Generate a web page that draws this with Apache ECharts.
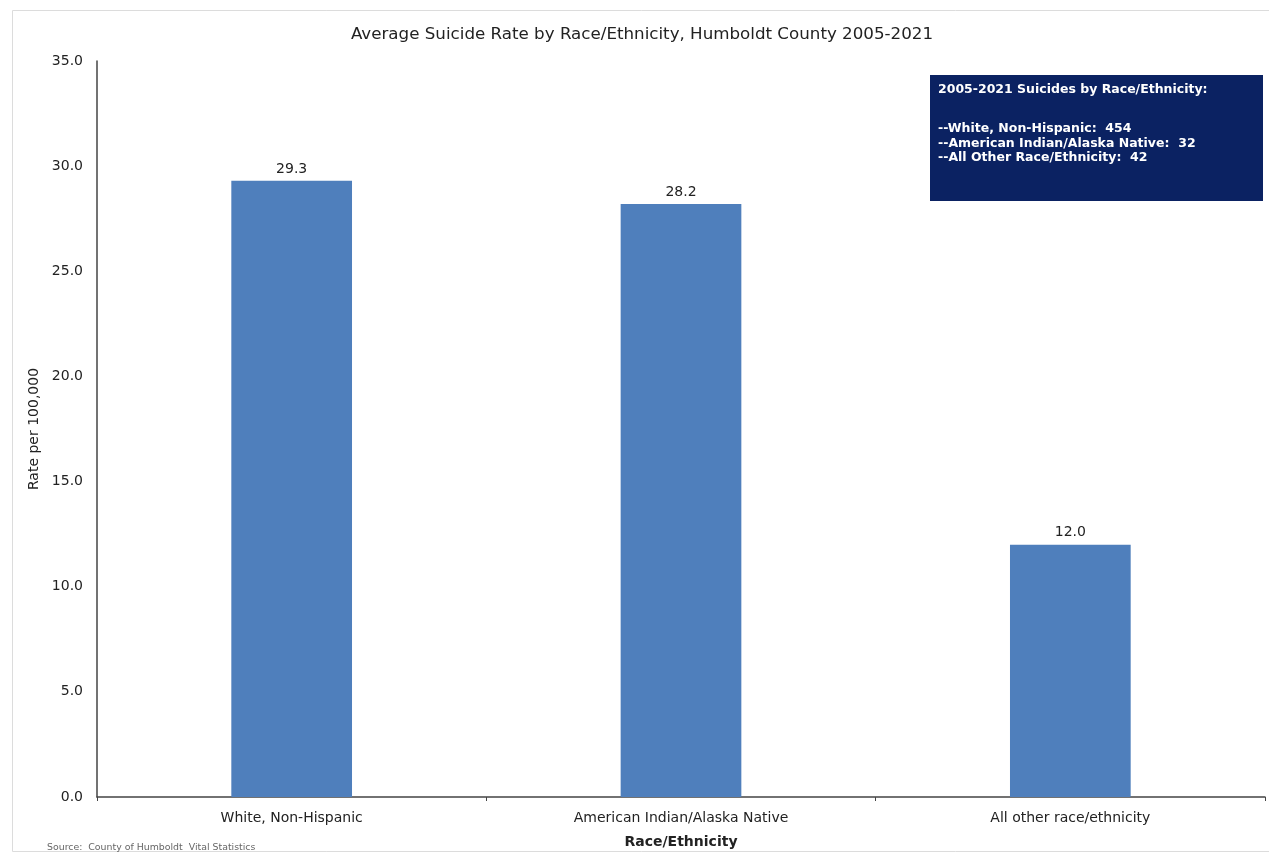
<!DOCTYPE html>
<html>
<head>
<meta charset="utf-8">
<script src="https://cdn.jsdelivr.net/npm/echarts@6/dist/echarts.min.js"></script>
<style>html,body{margin:0;padding:0;background:#fff}#c{width:1269px;height:860px}</style>
</head>
<body>
<div id="c"></div>
<script>
const categories = ['White, Non-Hispanic', 'American Indian/Alaska Native', 'All other race/ethnicity'];
const rates = [29.3, 28.2, 12.0];
const yTicks = [0, 5, 10, 15, 20, 25, 30, 35];
const boxTitle = '2005-2021 Suicides by Race/Ethnicity:';
const boxGroups = ['White, Non-Hispanic', 'American Indian/Alaska Native', 'All Other Race/Ethnicity'];
const boxCounts = [454, 32, 42];

const FONT = 'DejaVu Sans';
const chart = echarts.init(document.getElementById('c'));
const boxLines = boxGroups.map((g, i) => '--' + g + ':  ' + boxCounts[i]);
chart.setOption({
  backgroundColor: '#fff',
  animation: false,
  title: {
    text: 'Average Suicide Rate by Race/Ethnicity, Humboldt County 2005-2021',
    left: 637, top: 21, textAlign: 'center',
    textStyle: { fontFamily: FONT, fontSize: 16.7, fontWeight: 'normal', color: '#222' }
  },
  grid: { left: 97, right: 4, top: 61, bottom: 63, containLabel: false },
  xAxis: {
    type: 'category', data: categories,
    name: 'Race/Ethnicity', nameLocation: 'middle', nameGap: 38,
    nameTextStyle: { fontFamily: FONT, fontSize: 14, fontWeight: 'bold', color: '#222' },
    axisLine: { lineStyle: { color: '#444', width: 1.5 } },
    axisTick: { show: true, alignWithLabel: false, length: 4, lineStyle: { color: '#444' } },
    axisLabel: { fontFamily: FONT, fontSize: 14, color: '#222', margin: 14 }
  },
  yAxis: {
    type: 'value', min: yTicks[0], max: yTicks[yTicks.length - 1], interval: yTicks[1] - yTicks[0],
    name: 'Rate per 100,000', nameLocation: 'middle', nameGap: 52, nameRotate: 90,
    nameTextStyle: { fontFamily: FONT, fontSize: 14, color: '#222' },
    axisLine: { show: true, lineStyle: { color: '#444', width: 1.5 } },
    axisTick: { show: false },
    splitLine: { show: false },
    axisLabel: { fontFamily: FONT, fontSize: 14, color: '#222', margin: 14, formatter: v => v.toFixed(1) }
  },
  series: [{
    type: 'bar', data: rates, barWidth: '31%',
    itemStyle: { color: '#4f7fbc' },
    label: { show: true, position: 'top', distance: 5, formatter: p => p.value.toFixed(1),
      fontFamily: FONT, fontSize: 14, color: '#222' }
  }],
  graphic: [
    { type: 'rect', shape: { x: 12.5, y: 10.5, width: 1270, height: 841 }, style: { fill: 'none', stroke: '#dcdcdc', lineWidth: 1 }, silent: true },
    { type: 'rect', shape: { x: 930, y: 75, width: 333, height: 126 }, style: { fill: '#0b2262' } },
    { type: 'text', x: 938, y: 90, style: {
      text: boxTitle, fill: '#fff', fontFamily: FONT, fontSize: 12.5, fontWeight: 'bold', verticalAlign: 'middle' } },
    { type: 'text', x: 938, y: 121.5, style: {
      text: boxLines.join('\n'), fill: '#fff', fontFamily: FONT, fontSize: 12.5, fontWeight: 'bold', lineHeight: 14.5 } },
    { type: 'text', left: 47, top: 843, style: {
      text: 'Source:  County of Humboldt  Vital Statistics', fill: '#666', fontFamily: FONT, fontSize: 9.4 } }
  ]
});
</script>
</body>
</html>
